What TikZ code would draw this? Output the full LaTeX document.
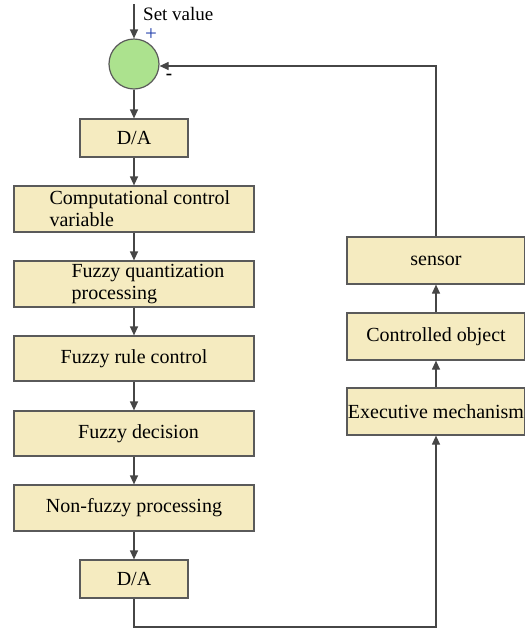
\documentclass[tikz,border=0pt]{standalone}
\usepackage{fontspec}
\setmainfont{Liberation Serif}
\usetikzlibrary{arrows.meta}
\definecolor{boxfill}{RGB}{245,235,192}
\definecolor{boxline}{RGB}{90,90,90}
\definecolor{sumfill}{RGB}{172,226,142}
\definecolor{wire}{RGB}{70,70,70}
\definecolor{plusblue}{RGB}{30,60,170}
\tikzset{
  box/.style={draw=boxline, line width=1.2pt, fill=boxfill, rectangle, inner sep=0pt,
              font=\fontsize{20}{22}\selectfont},
  txt/.style={inner sep=0pt, font=\fontsize{20}{22}\selectfont, align=left},
  flow/.style={draw=wire, line width=1.2pt, -{Triangle[length=9pt,width=8pt]}},
}
\begin{document}
\begin{tikzpicture}[x=1pt,y=-1pt]
  \useasboundingbox (0,0) rectangle (525,630);

  % summing junction
  \node[circle, draw=boxline, line width=1.2pt, fill=sumfill, minimum size=50pt, inner sep=0pt] (sum) at (134,64) {};
  \coordinate (in) at (134,4);
  \node[anchor=base west, inner sep=0pt, font=\fontsize{19}{21}\selectfont] (sv) at (143,20.5) {Set value};
  \node[inner sep=0pt, text=plusblue, font=\fontsize{21}{21}\selectfont] (plus) at (151,35) {+};
  \node[inner sep=0pt, font=\fontsize{19}{19}\selectfont\bfseries] (minus) at (169,77) {-};

  % left column
  \node[box, minimum width=108pt, minimum height=38pt] (da1) at (134,138) {D/A};
  \node[box, minimum width=240pt, minimum height=46pt] (cc) at (134,209) {};
  \node[txt, anchor=west] (cct) at ([xshift=36pt]cc.west) {Computational control\\variable};
  \node[box, minimum width=240pt, minimum height=46pt] (fq) at (134,284) {};
  \node[txt, anchor=west] (fqt) at ([xshift=58pt]fq.west) {Fuzzy quantization\\processing};
  \node[box, minimum width=240pt, minimum height=45pt] (fr) at (134,358.5) {Fuzzy rule control};
  \node[box, minimum width=240pt, minimum height=45pt] (fd) at (134,433.5) {\hspace*{9pt}Fuzzy decision};
  \node[box, minimum width=240pt, minimum height=46pt] (nf) at (134,508) {Non-fuzzy processing};
  \node[box, minimum width=108pt, minimum height=38pt] (da2) at (134,579) {D/A};

  % right column
  \node[box, minimum width=178pt, minimum height=47pt] (ex) at (436,411.5) {Executive mechanism};
  \node[box, minimum width=178pt, minimum height=47pt] (co) at (436,336.5) {Controlled object};
  \node[box, minimum width=178pt, minimum height=47pt] (se) at (436,260.5) {sensor};

  \coordinate (b1) at (134,627);
  \coordinate (b2) at (436,627);
  \coordinate (t1) at (436,66);

  % connectors
  \draw[flow] (in) -- (sum.north);
  \draw[flow] (sum.south) -- (da1.north);
  \draw[flow] (da1.south) -- (cc.north);
  \draw[flow] (cc.south) -- (fq.north);
  \draw[flow] (fq.south) -- (fr.north);
  \draw[flow] (fr.south) -- (fd.north);
  \draw[flow] (fd.south) -- (nf.north);
  \draw[flow] (nf.south) -- (da2.north);
  \draw[flow] (da2.south) -- (b1) -- (b2) -- (ex.south);
  \draw[flow] (ex.north) -- (co.south);
  \draw[flow] (co.north) -- (se.south);
  \draw[flow] (se.north) -- (t1) -- (sum.east |- t1);
\end{tikzpicture}
\end{document}
